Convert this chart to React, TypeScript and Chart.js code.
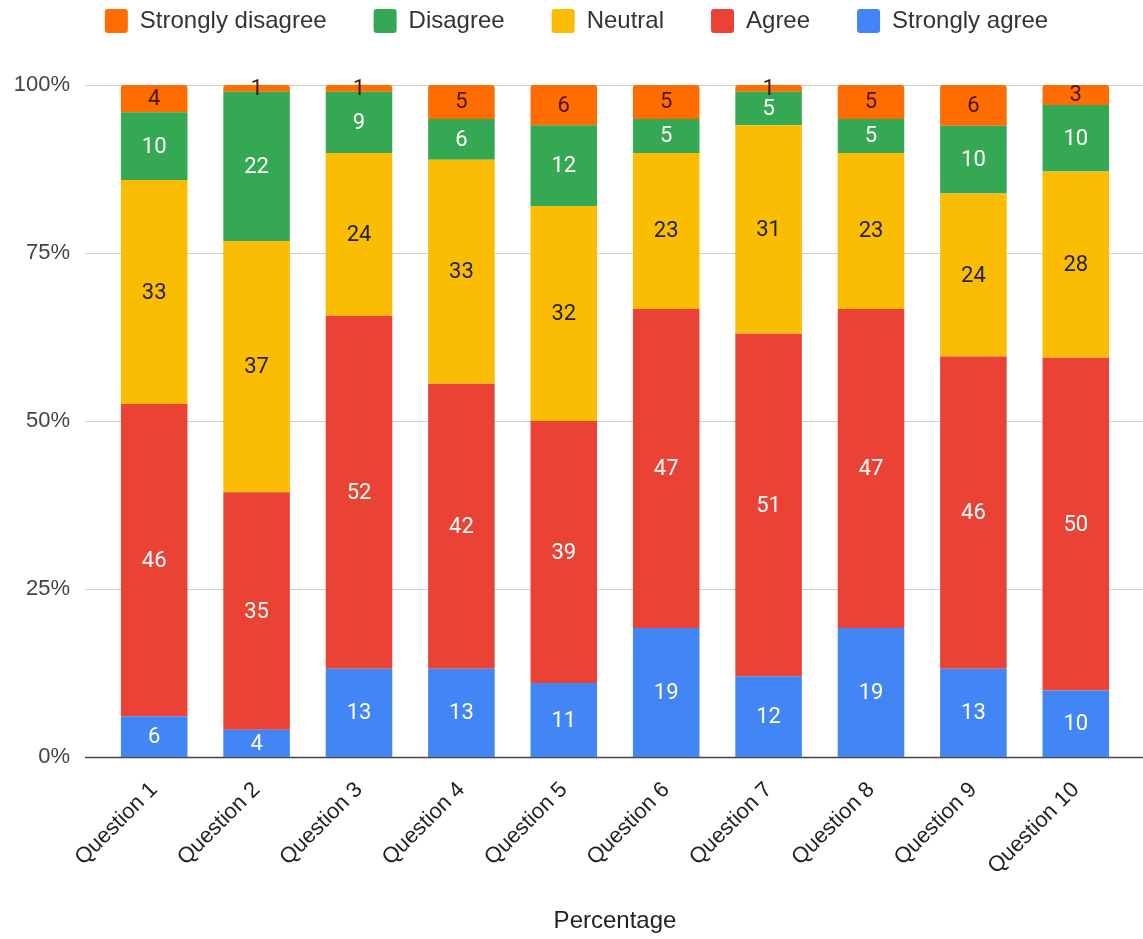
import React, { useEffect, useRef } from "react";
import { Chart, registerables } from "chart.js";

Chart.register(...registerables);

const categories = [
  "Question 1", "Question 2", "Question 3", "Question 4", "Question 5",
  "Question 6", "Question 7", "Question 8", "Question 9", "Question 10",
];
const stronglyAgree = [6, 4, 13, 13, 11, 19, 12, 19, 13, 10];
const agree = [46, 35, 52, 42, 39, 47, 51, 47, 46, 50];
const neutral = [33, 37, 24, 33, 32, 23, 31, 23, 24, 28];
const disagree = [10, 22, 9, 6, 12, 5, 5, 5, 10, 10];
const stronglyDisagree = [4, 1, 1, 5, 6, 5, 1, 5, 6, 3];
const yTicks = [0, 25, 50, 75, 100];

const seriesList = [
  { label: "Strongly agree", values: stronglyAgree, color: "#4285F4", text: "#ffffff" },
  { label: "Agree", values: agree, color: "#EA4335", text: "#ffffff" },
  { label: "Neutral", values: neutral, color: "#FBBC04", text: "#222222" },
  { label: "Disagree", values: disagree, color: "#34A853", text: "#ffffff" },
  { label: "Strongly disagree", values: stronglyDisagree, color: "#FF6D01", text: "#4a1500" },
];

const totals = categories.map((_, i) =>
  seriesList.reduce((s, d) => s + d.values[i], 0)
);

const AXIS_FONT = "'Liberation Sans', Arial, sans-serif";
const LABEL_FONT = "Roboto, 'Noto Sans', sans-serif";

export default function App() {
  const ref = useRef<HTMLCanvasElement | null>(null);

  useEffect(() => {
    document.body.style.margin = "0";
    const canvas = ref.current;
    if (!canvas) return;

    const gridPlugin = {
      id: "customGrid",
      beforeDatasetsDraw(chart: any) {
        const ctx = chart.ctx;
        const y = chart.scales.y;
        ctx.save();
        yTicks.forEach((v) => {
          const py = Math.round(y.getPixelForValue(v)) + 0.5;
          ctx.beginPath();
          ctx.strokeStyle = v === 0 ? "#444444" : "#cfcfcf";
          ctx.lineWidth = v === 0 ? 1.5 : 1.2;
          ctx.moveTo(85, py);
          ctx.lineTo(chart.width, py);
          ctx.stroke();
        });
        ctx.restore();
      },
    };

    const labelPlugin = {
      id: "valueLabels",
      afterDatasetsDraw(chart: any) {
        const ctx = chart.ctx;
        ctx.save();
        ctx.font = `22px ${LABEL_FONT}`;
        ctx.textAlign = "center";
        ctx.textBaseline = "middle";
        chart.data.datasets.forEach((ds: any, di: number) => {
          const meta = chart.getDatasetMeta(di);
          meta.data.forEach((el: any, i: number) => {
            const raw = seriesList[di].values[i];
            const cy = (el.y + el.base) / 2;
            ctx.fillStyle = seriesList[di].text;
            ctx.fillText(String(raw), el.x, cy + 1);
          });
        });
        ctx.restore();
      },
    };

    const legendHeight = {
      id: "legendHeight",
      beforeInit(chart: any) {
        const lg = chart.legend;
        if (!lg) return;
        const orig = lg.fit;
        lg.fit = function () {
          orig.bind(lg)();
          this.height = 123;
        };
      },
      afterLayout(chart: any) {
        const lg = chart.legend;
        if (lg) lg.left += 26;
      },
    };

    const chart = new Chart(canvas, {
      type: "bar",
      data: {
        labels: categories,
        datasets: seriesList.map((s) => ({
          label: s.label,
          data: s.values.map((v, i) => (v / totals[i]) * 100),
          backgroundColor: s.color,
          borderWidth: 0,
          borderRadius: 3,
          categoryPercentage: 0.65,
          barPercentage: 1,
        })),
      },
      options: {
        responsive: false,
        animation: false,
        layout: { padding: { left: 0, right: 16, top: -38, bottom: 0 } },
        plugins: {
          legend: {
            position: "top",
            reverse: true,
            labels: {
              boxWidth: 23,
              boxHeight: 24,
              useBorderRadius: true,
              borderRadius: 3,
              padding: 47,
              color: "#333333",
              font: { family: AXIS_FONT, size: 24 },
            },
          },
          tooltip: { enabled: false },
        },
        scales: {
          x: {
            stacked: true,
            grid: { display: false },
            border: { display: false },
            ticks: {
              minRotation: 45,
              maxRotation: 45,
              color: "#222222",
              font: { family: AXIS_FONT, size: 22 },
              padding: 12,
            },
            title: {
              display: true,
              text: "Percentage",
              color: "#222222",
              font: { family: AXIS_FONT, size: 24 },
              padding: { top: 0, bottom: 3 },
            },
            afterFit(scale: any) {
              scale.height = 182;
            },
          },
          y: {
            stacked: true,
            min: 0,
            max: 100,
            grid: { display: false },
            border: { display: false },
            afterBuildTicks(scale: any) {
              scale.ticks = yTicks.map((v) => ({ value: v }));
            },
            ticks: {
              color: "#444444",
              font: { family: AXIS_FONT, size: 22 },
              padding: 25,
              callback: (v: any) => `${v}%`,
            },
            afterFit(scale: any) {
              scale.width = 103;
            },
          },
        },
      },
      plugins: [gridPlugin, labelPlugin, legendHeight],
    });

    return () => chart.destroy();
  }, []);

  return <canvas ref={ref} width={1143} height={939} style={{ display: "block" }} />;
}
